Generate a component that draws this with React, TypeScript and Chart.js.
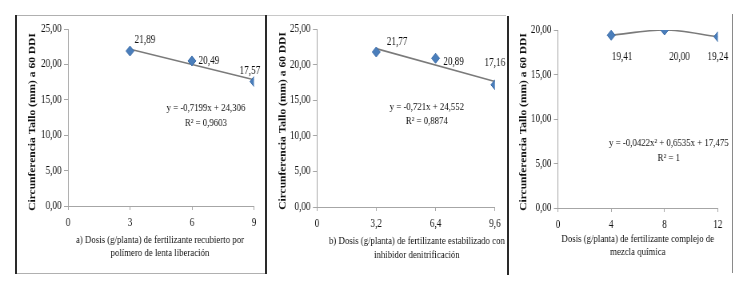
import React, { useEffect, useRef } from "react";
import { Chart, registerables } from "chart.js";
Chart.register(...registerables);

// ---------- data ----------
const Y_TITLE = "Circunferencia Tallo (mm) a 60 DDI";

const aDoses = [3, 6, 9];
const aValues = [21.89, 20.49, 17.57];
const aTicksX = [0, 3, 6, 9];
const aTickLabelsX = ["0", "3", "6", "9"];
const aTrend = [-0.7199, 24.306]; // slope, intercept
const aEquation = ["y = -0,7199x + 24,306", "R² = 0,9603"];
const aXTitle = ["a) Dosis (g/planta) de fertilizante recubierto por", "polímero de lenta liberación"];
const aYMax = 25;

const bDoses = [3.2, 6.4, 9.6];
const bValues = [21.77, 20.89, 17.16];
const bTicksX = [0, 3.2, 6.4, 9.6];
const bTickLabelsX = ["0", "3,2", "6,4", "9,6"];
const bTrend = [-0.721, 24.552];
const bEquation = ["y = -0,721x + 24,552", "R² = 0,8874"];
const bXTitle = ["b) Dosis (g/planta) de fertilizante estabilizado con", "inhibidor denitrificación"];
const bYMax = 25;

const cDoses = [4, 8, 12];
const cValues = [19.41, 20.0, 19.24];
const cTicksX = [0, 4, 8, 12];
const cTickLabelsX = ["0", "4", "8", "12"];
const cEquation = ["y = -0,0422x² + 0,6535x + 17,475", "R² = 1"];
const cXTitle = ["Dosis (g/planta) de fertilizante complejo de", "mezcla química"];
const cYMax = 20;

// ---------- style ----------
const S = 0.8; // horizontal squash of the whole picture
const PAGE_W = 747;
const PAGE_H = 290;
const CW = Math.round(PAGE_W / S);
const WY = 40;
const HX = 22;
const FONT = '"Liberation Serif", "Times New Roman", serif';
const TEXT = "#111111";
const AXIS = "#a6a6a6";
const MARK = "#4a7ebb";
const TREND = "#7a7a7a";

type PanelCfg = {
  doses: number[];
  values: number[];
  ticksX: number[];
  tickLabelsX: string[];
  yMax: number;
  trend: number[] | null;
  equation: string[];
  xTitle: string[];
  area: [number, number, number, number];
  yTitle: [number, number];
  xTitlePos: [number, number, number];
  eqPos: [number, number, number];
  labelOff: [number, number][];
};

const fmt = (v: number) => v.toFixed(2).replace(".", ",");

const panels: PanelCfg[] = [
  {
    doses: aDoses, values: aValues, ticksX: aTicksX, tickLabelsX: aTickLabelsX, yMax: aYMax,
    trend: aTrend, equation: aEquation, xTitle: aXTitle,
    area: [68, 29, 254, 206], yTitle: [33, 122], xTitlePos: [160, 240, 253], eqPos: [206, 108, 123],
    labelOff: [[15, -11], [17, 0], [-4, -11]],
  },
  {
    doses: bDoses, values: bValues, ticksX: bTicksX, tickLabelsX: bTickLabelsX, yMax: bYMax,
    trend: bTrend, equation: bEquation, xTitle: bXTitle,
    area: [317, 29, 495, 207], yTitle: [283, 121], xTitlePos: [417, 241, 255], eqPos: [427, 107, 121],
    labelOff: [[21, -10], [18, 4], [0, -22]],
  },
  {
    doses: cDoses, values: cValues, ticksX: cTicksX, tickLabelsX: cTickLabelsX, yMax: cYMax,
    trend: null, equation: cEquation, xTitle: cXTitle,
    area: [558, 30, 718, 208], yTitle: [524, 122], xTitlePos: [638, 239, 252], eqPos: [669, 143, 158],
    labelOff: [[11, 22], [15, 27], [0, 20]],
  },
];

function Panel({ cfg }: { cfg: PanelCfg }) {
  const ref = useRef<HTMLCanvasElement>(null);
  useEffect(() => {
    const [l, t, r, b] = cfg.area;
    const points = cfg.doses.map((x, i) => ({ x, y: cfg.values[i] }));
    const trendData = cfg.trend
      ? [cfg.doses[0], cfg.doses[cfg.doses.length - 1]].map((x) => ({ x, y: cfg.trend![0] * x + cfg.trend![1] }))
      : points;
    const textPlugin = {
      id: "texts",
      afterDraw(chart: any) {
        const ctx = chart.ctx as CanvasRenderingContext2D;
        ctx.save();
        ctx.fillStyle = TEXT;
        ctx.textAlign = "center";
        ctx.textBaseline = "middle";
        // y title
        ctx.save();
        ctx.translate(cfg.yTitle[0] / S, cfg.yTitle[1]);
        ctx.rotate(-Math.PI / 2);
        ctx.font = `bold 11.5px ${FONT}`;
        ctx.fillText(Y_TITLE, 0, 0);
        ctx.restore();
        // x title
        ctx.font = `11px ${FONT}`;
        ctx.fillText(cfg.xTitle[0], cfg.xTitlePos[0] / S, cfg.xTitlePos[1]);
        ctx.fillText(cfg.xTitle[1], cfg.xTitlePos[0] / S, cfg.xTitlePos[2]);
        // equation
        ctx.font = `11px ${FONT}`;
        ctx.fillText(cfg.equation[0], cfg.eqPos[0] / S, cfg.eqPos[1]);
        ctx.fillText(cfg.equation[1], cfg.eqPos[0] / S, cfg.eqPos[2]);
        // data labels
        const meta = chart.getDatasetMeta(0);
        ctx.font = `11.5px ${FONT}`;
        meta.data.forEach((el: any, i: number) => {
          const [dx, dy] = cfg.labelOff[i];
          ctx.fillText(fmt(cfg.values[i]), el.x + dx / S, el.y + dy);
        });
        ctx.restore();
      },
    };
    const chart = new Chart(ref.current!, {
      type: "scatter",
      data: {
        datasets: [
          {
            data: points,
            pointStyle: "rectRot",
            pointRadius: 5,
            backgroundColor: MARK,
            borderColor: "#3d6da8",
            borderWidth: 1,
            showLine: false,
          } as any,
          {
            type: "line",
            data: trendData,
            showLine: true,
            borderColor: TREND,
            borderWidth: 1.6,
            pointRadius: 0,
            fill: false,
            cubicInterpolationMode: "monotone",
          } as any,
        ],
      },
      options: {
        animation: false,
        responsive: false,
        devicePixelRatio: 1,
        layout: {
          padding: { left: l / S - WY, right: CW - r / S, top: t, bottom: PAGE_H - b - HX },
        },
        plugins: { legend: { display: false }, tooltip: { enabled: false } },
        events: [],
        scales: {
          x: {
            type: "linear",
            min: 0,
            max: cfg.ticksX[cfg.ticksX.length - 1],
            afterBuildTicks: (s: any) => {
              s.ticks = cfg.ticksX.map((v) => ({ value: v }));
            },
            afterFit: (s: any) => {
              s.height = HX;
            },
            ticks: {
              autoSkip: false,
              maxRotation: 0,
              padding: 6,
              color: TEXT,
              font: { family: FONT, size: 11.5 },
              callback: (_v: any, i: number) => cfg.tickLabelsX[i],
            },
            grid: { drawOnChartArea: false, drawTicks: true, tickLength: 4, color: AXIS },
            border: { color: AXIS, width: 1 },
          },
          y: {
            type: "linear",
            min: 0,
            max: cfg.yMax,
            afterFit: (s: any) => {
              s.width = WY;
            },
            ticks: {
              stepSize: 5,
              padding: 3,
              color: TEXT,
              font: { family: FONT, size: 11.5 },
              callback: (v: any) => fmt(Number(v)),
            },
            grid: { drawOnChartArea: false, drawTicks: true, tickLength: 5, color: AXIS },
            border: { color: AXIS, width: 1 },
          },
        },
      },
      plugins: [textPlugin],
    } as any);
    return () => chart.destroy();
  }, [cfg]);
  return (
    <canvas
      ref={ref}
      width={CW}
      height={PAGE_H}
      style={{ position: "absolute", left: 0, top: 0, width: PAGE_W + "px", height: PAGE_H + "px" }}
    />
  );
}

const line = (left: number, top: number, width: number, height: number, color: string) => (
  <div style={{ position: "absolute", left, top, width, height, background: color }} />
);

export default function App() {
  return (
    <div style={{ position: "absolute", left: 0, top: 0, width: PAGE_W, height: PAGE_H, background: "#fff", overflow: "hidden" }}>
      {line(17, 15, 249, 1, "#b0b0b0")}
      {line(17, 273, 249, 1, "#b0b0b0")}
      {line(266, 15, 240, 1, "#c8c8c8")}
      {line(15, 15, 2, 259, "#2a2a2a")}
      {line(265, 15, 2, 259, "#2a2a2a")}
      {line(507, 16, 2, 259, "#2a2a2a")}
      {line(732, 14, 1, 259, "#8a8a8a")}
      {panels.map((p, i) => (
        <Panel key={i} cfg={p} />
      ))}
    </div>
  );
}
